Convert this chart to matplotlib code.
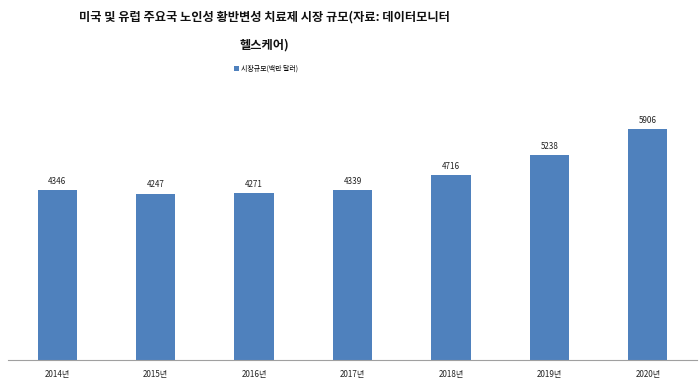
import matplotlib
matplotlib.use("Agg")
import matplotlib.pyplot as plt

plt.rcParams['font.family'] = ['Noto Sans CJK KR', 'DejaVu Sans']

# Data
years = ['2014년', '2015년', '2016년', '2017년', '2018년', '2019년', '2020년']
market_size = [4346, 4247, 4271, 4339, 4716, 5238, 5906]
series_name = '시장규모(백만 달러)'
title_line1 = '미국 및 유럽 주요국 노인성 황반변성 치료제 시장 규모(자료: 데이터모니터'
title_line2 = '헬스케어)'

bar_color = '#4f81bd'

W, H = 700, 382
fig = plt.figure(figsize=(W / 100, H / 100), dpi=100)

# axes placed in pixel coords
left, right, bottom, top = 8, 697, 360, 86
ax = fig.add_axes([left / W, 1 - bottom / H, (right - left) / W, (bottom - top) / H])

x = range(len(years))
bars = ax.bar(x, market_size, width=0.4, color=bar_color, label=series_name)

for xi, v in zip(x, market_size):
    ax.text(xi, v + 110, str(v), ha='center', va='bottom', fontsize=5.8, color='#222222')

ax.set_xlim(-0.5, len(years) - 0.5)
ax.set_ylim(0, 7000)
ax.set_xticks(list(x))
ax.set_xticklabels(years, fontsize=5.8, color='#222222')
ax.tick_params(axis='x', length=0, pad=7)
ax.set_yticks([])
for s in ['top', 'right', 'left']:
    ax.spines[s].set_visible(False)
ax.spines['bottom'].set_color('#a0a0a0')
ax.spines['bottom'].set_linewidth(0.8)

# title (two lines, centered left of middle like the source)
fig.text(264 / W, 1 - 17 / H, title_line1, ha='center', va='center',
         fontsize=8.8, fontweight='bold', color='#111111')
fig.text(264 / W, 1 - 45 / H, title_line2, ha='center', va='center',
         fontsize=8.8, fontweight='bold', color='#111111')

# legend
leg = fig.legend(handles=[bars], labels=[series_name], loc='center',
                 bbox_to_anchor=(266 / W, 1 - 69 / H), frameon=False,
                 fontsize=5.0, handlelength=0.6, handleheight=0.6,
                 handletextpad=0.3, borderpad=0)

fig.savefig('out.png', dpi=100)
